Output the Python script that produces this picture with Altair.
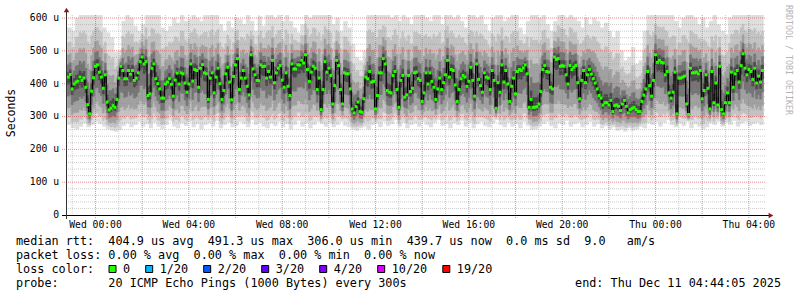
import altair as alt
import pandas as pd

# ---------------- data ----------------
# median RTT (microseconds) every 5 minutes, first sample Tue 22:50
MED = [
    420, 428, 384, 399, 405, 408, 420, 410, 417, 389, 336, 308, 377, 418, 453, 457, 435, 420, 386, 427,
    344, 320, 325, 333, 328, 352, 417, 453, 440, 415, 415, 440, 429, 440, 410, 417, 433, 467, 481, 460,
    467, 364, 369, 447, 460, 415, 400, 384, 356, 356, 399, 405, 415, 398, 362, 411, 432, 399, 433, 430,
    402, 374, 399, 460, 408, 443, 440, 389, 447, 458, 433, 430, 352, 417, 433, 372, 420, 447, 400, 352,
    379, 430, 450, 405, 351, 422, 457, 476, 382, 417,
    440, 417, 392, 366, 488, 445, 427, 410, 409, 457, 452, 453, 417, 437, 420, 471, 403, 433, 447, 455,
    411, 389, 433, 392, 364, 460, 445, 445, 457, 457, 471, 463, 488, 443, 407, 435, 453, 447, 382, 417,
    321, 382, 467, 435, 447, 425, 338, 394, 471, 455, 382, 338, 433, 430, 430, 384, 323, 311, 330, 344,
    315, 313, 354, 420, 415, 437, 405, 407, 323, 364, 433, 433, 476, 460, 379, 374, 372, 425, 437, 382,
    328, 410, 425, 359, 366, 425, 376, 386, 433, 435,
    415, 410, 346, 372, 433, 399, 433, 407, 389, 352, 384, 417, 382, 403, 427, 471, 420, 443, 440, 396,
    346, 382, 415, 425, 420, 392, 407, 450, 410, 362, 460, 413, 394, 374, 433, 420, 417, 382, 440, 410,
    325, 403, 374, 457, 405, 440, 399, 346, 392, 417, 369, 437, 443, 440, 448, 457, 430, 328, 352, 328,
    328, 330, 338, 376, 443, 455, 437, 435, 389, 384, 481, 474, 476, 453, 455, 453, 427, 399, 455, 443,
    450, 455, 403, 354, 410, 440, 403, 427, 443,
    429, 415, 402, 384, 364, 356, 335, 342, 342, 335, 349, 315, 333, 335, 331, 318, 338, 349, 331, 311,
    321, 325, 328, 321, 315, 315, 346, 365, 384, 437, 394, 362, 410, 488, 465, 471, 465, 463, 427, 437,
    372, 356, 374, 435, 308, 417, 417, 420, 423, 338, 306, 447, 433, 433, 435, 430, 440, 354, 379, 427,
    386, 323, 437, 342, 402, 335, 453, 321, 308, 342, 372, 342, 435, 389, 430, 440, 405, 455, 491, 447,
    427, 443, 437, 413, 447, 402, 423, 405, 440,
]

# smoke extent (fastest / slowest ping) every 10 minutes
LO = [
    275, 265, 262, 270, 280, 268, 275, 285, 278, 270,
    262, 258, 255, 260, 272, 280, 268, 275, 285, 270,
    278, 265, 282, 270, 262, 275, 288, 270, 265, 280,
    272, 285, 268, 278, 262, 275, 280, 270, 288, 265,
    275, 282, 268, 272, 285, 278, 268, 290, 275, 282,
    270, 265, 280, 272, 285, 268, 278, 262, 275, 288,
    270, 280, 265, 275, 285, 278, 270, 282, 268, 275,
    285, 272, 268, 262, 258, 265, 270, 262, 275, 280,
    268, 285, 272, 278, 290, 270, 282, 265, 275, 280,
    270, 285, 275, 268, 282, 290, 272, 278, 265, 280,
    275, 288, 270, 282, 265, 278, 285, 272, 268, 280,
    290, 275, 268, 282, 270, 278, 265, 285, 272, 260,
    262, 270, 278, 285, 272, 265, 280, 275, 288, 270,
    278, 282, 268, 275, 285, 270, 278, 265, 272, 262,
    268, 258, 262, 255, 265, 258, 262, 270, 265, 280,
    275, 285, 270, 282, 290, 275, 268, 280, 272, 285,
    265, 278, 270, 262, 268, 280, 275, 285, 270, 282,
    275, 288, 270, 280, 285, 272, 278, 282, 275,
]
HI = [
    570, 560, 600, 615, 620, 610, 620, 620, 615, 570,
    555, 540, 495, 500, 590, 610, 600, 575, 560, 580,
    615, 620, 610, 620, 570, 560, 575, 600, 585, 615,
    590, 595, 620, 600, 590, 610, 620, 620, 615, 580,
    560, 590, 570, 600, 595, 580, 620, 590, 560, 605,
    575, 615, 620, 600, 610, 590, 620, 590, 570, 555,
    580, 620, 600, 620, 615, 620, 620, 610, 580, 600,
    560, 590, 570, 520, 480, 470, 500, 620, 620, 615,
    620, 620, 610, 600, 620, 590, 615, 600, 580, 610,
    610, 620, 600, 590, 620, 615, 580, 620, 610, 600,
    620, 590, 570, 610, 620, 600, 620, 580, 560, 600,
    615, 620, 590, 600, 620, 610, 570, 550, 590, 620,
    620, 600, 610, 580, 560, 590, 620, 615, 600, 620,
    600, 590, 570, 600, 580, 600, 590, 570, 585, 560,
    540, 560, 500, 470, 480, 510, 460, 470, 560, 615,
    620, 620, 615, 620, 610, 620, 590, 570, 600, 620,
    610, 600, 580, 600, 570, 590, 610, 580, 560, 550,
    600, 620, 615, 620, 610, 620, 620, 615, 610,
]

FIRST_SAMPLE_H = -(1 + 10 / 60)          # Tue 22:50, in hours from Wed 00:00
STEP_H = 5 / 60
X_DOMAIN = [-(1 + 15 / 60 + 55 / 3600), 28 + 44 / 60 + 5 / 3600]   # Tue 22:44:05 .. Thu 04:44:05
Y_DOMAIN = [0, 609.1]
Y_TICKS = [0, 100, 200, 300, 400, 500, 600]
Y_LABELS = ["0\u00a0\u00a0", "100 u", "200 u", "300 u", "400 u", "500 u", "600 u"]
X_LABEL_TICKS = [0, 4, 8, 12, 16, 20, 24, 28]
X_LABELS = ["Wed 00:00", "Wed 04:00", "Wed 08:00", "Wed 12:00", "Wed 16:00", "Wed 20:00",
            "Thu 00:00", "Thu 04:00"]
V_MAJOR = list(range(0, 29, 2))
V_MINOR = list(range(-1, 29, 2))
H_MAJOR = [100, 200, 300, 400, 500, 600]
H_MINOR = [v for v in range(20, 601, 20) if v % 100 != 0]

LOSS_LABELS = ["0", "1/20", "2/20", "3/20", "4/20", "10/20", "19/20"]
LOSS_COLORS = ["#26ff00", "#00b8ff", "#0059ff", "#5e00ff", "#7e00ff", "#dd00ff", "#ff0000"]

LINE1 = "median rtt:  404.9 us avg  491.3 us max  306.0 us min  439.7 us now  0.0 ms sd  9.0   am/s"
LINE2 = "packet loss: 0.00 % avg  0.00 % max  0.00 % min  0.00 % now"
LINE3 = "loss color:"
LINE4 = "probe:       20 ICMP Echo Pings (1000 Bytes) every 300s"
END_TEXT = "end: Thu Dec 11 04:44:05 2025"
Y_TITLE = "Seconds"
WATERMARK = "RRDTOOL / TOBI OETIKER"

# ---------------- styling ----------------
FONT = "DejaVu Sans Mono"
W, H = 700, 200
LEFT, TOP = 66, 15
# (lower fraction, upper fraction, colour) from the outside in
BANDS = [(1.0, 1.0, "#dedede"), (0.85, 0.7, "#c2c2c2"), (0.65, 0.45, "#a0a0a0"),
         (0.4, 0.25, "#747474"), (0.15, 0.1, "#474747")]

def nb(s):
    return s.replace(" ", "\u00a0")

xs = alt.Scale(domain=X_DOMAIN, nice=False, zero=False)
ys = alt.Scale(domain=Y_DOMAIN, nice=False, zero=False)

# ---------------- tables ----------------
med_df = pd.DataFrame({"t": [FIRST_SAMPLE_H + i * STEP_H for i in range(len(MED))], "med": MED})

rows = []
for k, (fl, fu, col) in enumerate(BANDS):
    for i, m in enumerate(MED):
        t = FIRST_SAMPLE_H + i * STEP_H
        lo, hi = LO[i // 2], HI[i // 2]
        rows.append({"t0": t - STEP_H / 2, "t1": t + STEP_H / 2,
                     "y0": m - (m - lo) * fl, "y1": m + (hi - m) * fu, "col": col, "k": k})
smoke_df = pd.DataFrame(rows)

smoke = alt.Chart(smoke_df).mark_rect(clip=True, strokeWidth=0.5).encode(
    x=alt.X("t0:Q", scale=xs, axis=None),
    x2="t1:Q",
    y=alt.Y("y0:Q", scale=ys, axis=None),
    y2="y1:Q",
    color=alt.Color("col:N", scale=None),
    stroke=alt.Stroke("col:N", scale=None),
    order=alt.Order("k:Q"),
)

def vrules(vals, color, opacity, bottom):
    return alt.Chart(pd.DataFrame({"h": vals})).mark_rule(
        color=color, opacity=opacity, strokeDash=[1, 1], strokeWidth=1).encode(
        x=alt.X("h:Q", scale=xs, axis=None), y=alt.value(0), y2=alt.value(bottom))

def hrules(vals, color, opacity, left):
    return alt.Chart(pd.DataFrame({"v": vals})).mark_rule(
        color=color, opacity=opacity, strokeDash=[1, 1], strokeWidth=1).encode(
        y=alt.Y("v:Q", scale=ys, axis=None), x=alt.value(left), x2=alt.value(W))

grid = [vrules(V_MINOR, "#8f8f8f", 0.45, H), hrules(H_MINOR, "#8f8f8f", 0.45, 0),
        vrules(V_MAJOR, "#de5050", 0.65, H + 4), hrules(H_MAJOR, "#de5050", 0.65, -4)]

med_line = alt.Chart(med_df).mark_line(interpolate="step", color="#000000", strokeWidth=1.2, clip=True).encode(
    x=alt.X("t:Q", scale=xs, axis=None), y=alt.Y("med:Q", scale=ys, axis=None))
med_pts = alt.Chart(med_df).mark_square(size=9, color="#26ff00", opacity=1, filled=True, clip=True).encode(
    x=alt.X("t:Q", scale=xs, axis=None), y=alt.Y("med:Q", scale=ys, axis=None))

one = pd.DataFrame({"a": [0]})
x_axis_line = alt.Chart(one).mark_rule(color="#000000", strokeWidth=1).encode(
    x=alt.value(-4), x2=alt.value(W + 4), y=alt.value(H + 0.5))
y_axis_line = alt.Chart(one).mark_rule(color="#333333", strokeWidth=1).encode(
    x=alt.value(0.5), y=alt.value(-6), y2=alt.value(H + 4))
x_arrow = alt.Chart(one).mark_point(shape="triangle-right", filled=True, size=30, color="#8b1a1a", opacity=1).encode(
    x=alt.value(W + 5), y=alt.value(H + 0.5))
y_arrow = alt.Chart(one).mark_point(shape="triangle-up", filled=True, size=30, color="#8b1a1a", opacity=1).encode(
    x=alt.value(0.5), y=alt.value(-5))

# tick labels
x_lab = alt.Chart(pd.DataFrame({"h": X_LABEL_TICKS, "s": [nb(s) for s in X_LABELS]})).mark_text(
    font=FONT, fontSize=9.7, color="#000000", align="center", baseline="middle").encode(
    x=alt.X("h:Q", scale=xs, axis=None), y=alt.value(225 - TOP), text="s:N")
y_lab = alt.Chart(pd.DataFrame({"v": Y_TICKS, "s": [nb(s) for s in Y_LABELS]})).mark_text(
    font=FONT, fontSize=9.7, color="#000000", align="right", baseline="middle").encode(
    y=alt.Y("v:Q", scale=ys, axis=None), x=alt.value(59 - LEFT), text="s:N")

def text_at(s, x, y, **kw):
    props = dict(font=FONT, fontSize=11.8, color="#000000", align="left", baseline="middle")
    props.update(kw)
    return alt.Chart(pd.DataFrame({"s": [nb(s)]})).mark_text(**props).encode(
        text="s:N", x=alt.value(x), y=alt.value(y))

texts = [
    text_at(LINE1, 16 - LEFT, 241 - TOP),
    text_at(LINE2, 16 - LEFT, 255 - TOP),
    text_at(LINE3, 16 - LEFT, 269 - TOP),
    text_at(LINE4, 16 - LEFT, 283 - TOP),
    text_at(END_TEXT, 781 - LEFT, 283 - TOP, align="right"),
    text_at(Y_TITLE, 12 - LEFT, 113 - TOP, align="center", angle=270, fontSize=11.5),
    text_at(WATERMARK, 787.5 - LEFT, 60 - TOP, align="center", angle=90, fontSize=8.3, color="#b4b4b4"),
]

# loss colour legend: boxes laid out like rrdtool's legend
CH = 7.1
bx = 109 - LEFT
box_x, txt_x = [], []
for lab in LOSS_LABELS:
    box_x.append(bx)
    txt_x.append(bx + 14)
    bx = bx + 14 + len(lab) * CH + 15.6
leg_df = pd.DataFrame({"bx": box_x, "bx2": [b + 7 for b in box_x], "tx": txt_x,
                       "lab": LOSS_LABELS, "col": LOSS_COLORS})
leg_boxes = alt.Chart(leg_df).mark_rect(stroke="#000000", strokeWidth=1).encode(
    x=alt.X("bx:Q", scale=None, axis=None), x2="bx2:Q",
    y=alt.value(265.5 - TOP), y2=alt.value(272.5 - TOP),
    color=alt.Color("col:N", scale=None))
leg_text = alt.Chart(leg_df).mark_text(font=FONT, fontSize=11.8, color="#000000", align="left",
                                       baseline="middle").encode(
    x=alt.X("tx:Q", scale=None, axis=None), y=alt.value(269 - TOP), text="lab:N")

chart = alt.layer(
    smoke, *grid, med_line, med_pts, x_axis_line, y_axis_line, x_arrow, y_arrow,
    x_lab, y_lab, *texts, leg_boxes, leg_text,
).properties(
    width=W, height=H,
    autosize=alt.AutoSizeParams(type="none"),
    padding={"left": LEFT, "top": TOP, "right": 797 - LEFT - W, "bottom": 297 - TOP - H},
    background="#ffffff",
).configure_view(strokeWidth=0).configure_axis(grid=False)

chart.save("out.html", embed_options={"renderer": "svg", "actions": False})
